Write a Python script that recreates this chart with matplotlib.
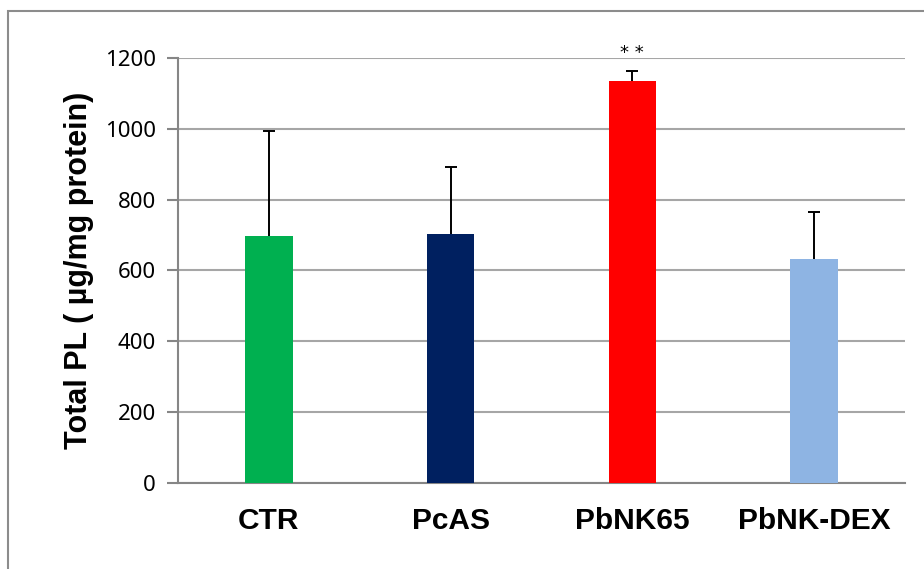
import numpy as np
import matplotlib.pyplot as plt
from matplotlib.patches import Rectangle

grupos = ['CTR', 'PcAS', 'PbNK65', 'PbNK-DEX']
media = [697, 703, 1135, 633]
erro = [297, 189, 29, 132]
cores = ['#00B050', '#002060', '#FF0000', '#8EB4E3']
yticks = [0, 200, 400, 600, 800, 1000, 1200]

fig = plt.figure(figsize=(9.24, 5.69), dpi=100)
ax = fig.add_axes([178/924, 1 - 483/569, (905 - 178)/924, (483 - 58)/569])

# moldura cinza da figura
fig.patches.append(Rectangle((8/924, -0.1), 1.2, 1.1 - 11/569, transform=fig.transFigure,
                             fill=False, edgecolor='#8c8c8c', linewidth=1.5))

x = np.arange(len(grupos))
ax.bar(x, media, width=0.26, color=cores, zorder=3)
eb = ax.errorbar(x, media, yerr=[np.zeros(len(erro)), erro], fmt='none', ecolor='black',
                 elinewidth=1.4, capsize=4, capthick=1.4, zorder=4)
# so a barra de erro de cima
eb[1][0].set_visible(False)

ax.annotate('* *', xy=(2, media[2] + erro[2]), xytext=(0, 13), textcoords='offset points',
            ha='center', va='center', fontsize=13, family='DejaVu Sans')

ax.set_xlim(-0.5, len(grupos) - 0.5)
ax.set_ylim(0, 1200)
ax.set_yticks(yticks)
ax.set_yticklabels([str(v) for v in yticks], family='Noto Sans', fontsize=16)
ax.set_xticks(x)
ax.set_xticklabels(grupos, family='Liberation Sans', fontweight='bold', fontsize=21.5)
ax.tick_params(axis='x', length=0, pad=17)
ax.tick_params(axis='y', length=8, width=1.5, color='#868686', pad=8)

ax.yaxis.grid(True, color='#a6a6a6', linewidth=1.5, zorder=0)
ax.set_axisbelow(True)
for s in ['top', 'right']:
    ax.spines[s].set_visible(False)
for s in ['left', 'bottom']:
    ax.spines[s].set_color('#868686')
    ax.spines[s].set_linewidth(1.5)

ax.set_ylabel('Total PL ( µg/mg protein)', family='Liberation Sans', fontweight='bold',
              fontsize=22, labelpad=8)

fig.savefig('out.png', dpi=100)
